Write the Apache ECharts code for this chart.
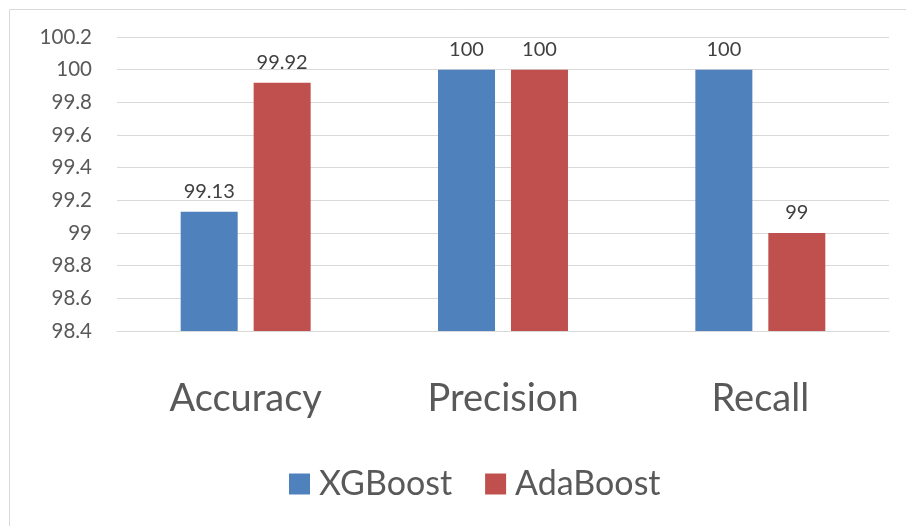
<!DOCTYPE html>
<html><head><meta charset="utf-8">
<script src="https://cdn.jsdelivr.net/npm/echarts@6/dist/echarts.min.js"></script>
<style>html,body{margin:0;padding:0;background:#fff}#c{width:906px;height:526px}</style>
</head><body><div id="c"></div>
<script>
const categories = ['Accuracy', 'Precision', 'Recall'];
const xgboost = [99.13, 100, 100];
const adaboost = [99.92, 100, 99];
const seriesNames = ['XGBoost', 'AdaBoost'];

const chart = echarts.init(document.getElementById('c'));
const font = 'Lato, "Open Sans", sans-serif';
chart.setOption({
  animation: false,
  textStyle: { fontFamily: font },
  graphic: [
    { type: 'line', shape: { x1: 9.5, y1: 9.5, x2: 906, y2: 9.5 }, style: { stroke: '#d9d9d9', lineWidth: 1 } },
    { type: 'line', shape: { x1: 9.5, y1: 9.5, x2: 9.5, y2: 526 }, style: { stroke: '#d9d9d9', lineWidth: 1 } }
  ],
  grid: { left: 117, right: 17, top: 37, bottom: 195 },
  legend: {
    left: 284, bottom: 20, itemWidth: 21, itemHeight: 21, itemGap: 33,
    icon: 'rect',
    textStyle: { fontSize: 34, color: '#595959', fontFamily: font, padding: [0, 0, 0, 4] },
    data: seriesNames
  },
  xAxis: {
    type: 'category', data: categories,
    axisLine: { lineStyle: { color: '#d9d9d9' } },
    axisTick: { show: false },
    axisLabel: { fontSize: 38, color: '#595959', margin: 49 }
  },
  yAxis: {
    type: 'value', min: 98.4, max: 100.2, interval: 0.2,
    axisLine: { show: false }, axisTick: { show: false },
    splitLine: { lineStyle: { color: '#d9d9d9' } },
    axisLabel: { fontSize: 20.5, color: '#595959', margin: 25,
      formatter: v => String(parseFloat(v.toFixed(1))) }
  },
  series: [
    { name: seriesNames[0], type: 'bar', data: xgboost, barWidth: 57, barGap: '28%',
      itemStyle: { color: '#4F81BD' },
      label: { show: true, position: 'top', distance: 10, fontSize: 20, color: '#404040' } },
    { name: seriesNames[1], type: 'bar', data: adaboost, barWidth: 57,
      itemStyle: { color: '#C0504D' },
      label: { show: true, position: 'top', distance: 10, fontSize: 20, color: '#404040' } }
  ]
});
</script></body></html>
